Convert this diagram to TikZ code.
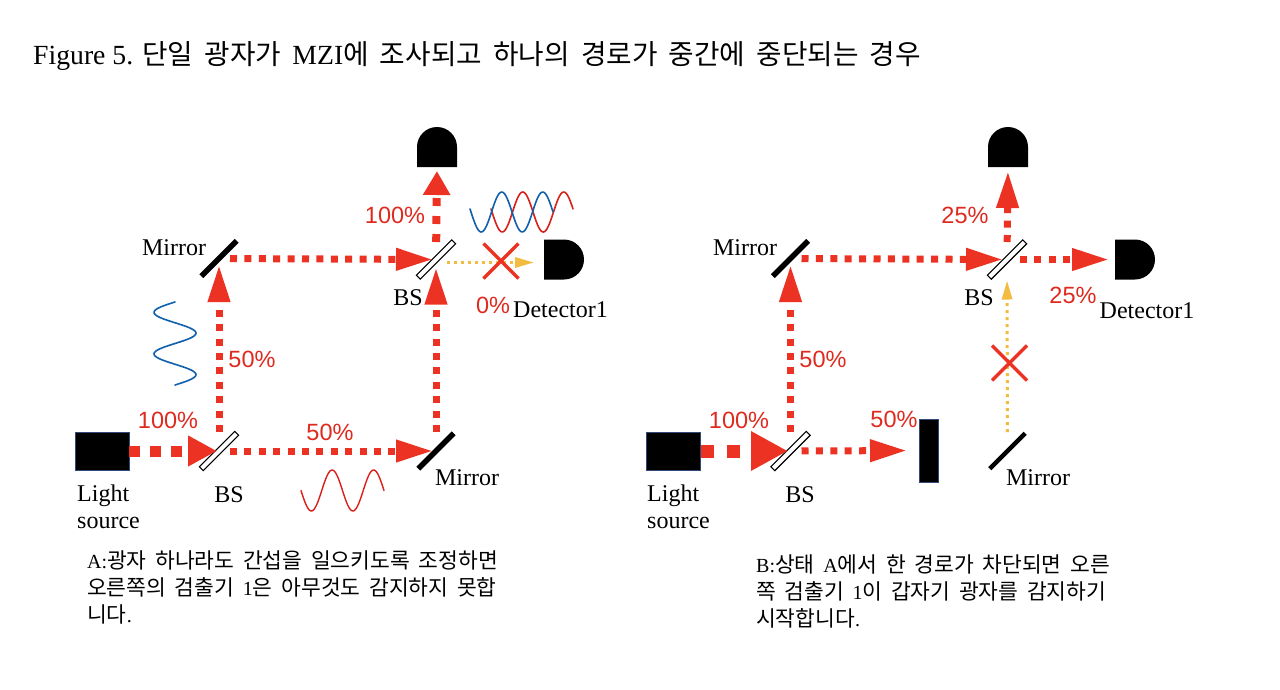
\documentclass[tikz,border=0pt]{standalone}
\usepackage{fontspec}
\setmainfont{Liberation Serif}
\newfontfamily\krfont[WordSpace=1.8]{Noto Sans CJK KR}
\newfontfamily\pctfont{Liberation Sans}
\usetikzlibrary{arrows.meta,shapes.misc}

\definecolor{beamred}{HTML}{EC3323}
\definecolor{pctred}{HTML}{DF2A1F}
\definecolor{beamyellow}{HTML}{F3BC41}
\definecolor{waveblue}{HTML}{1160AC}
\definecolor{wavered}{HTML}{D9211C}
\definecolor{boxblue}{HTML}{2F4A7A}

\newcommand{\kr}[1]{{\krfont\fontsize{21.5}{27}\selectfont #1}}
\newcommand{\krtitle}[1]{{\krfont\fontsize{27.75}{30}\selectfont #1}}

\tikzset{
  mirrorbar/.style={fill=black, rotate=45, minimum width=50pt, minimum height=5.5pt, inner sep=0pt, outer sep=0pt},
  splitter/.style={draw=black, fill=white, line width=1.2pt, rotate=45, minimum width=50pt, minimum height=5.5pt, inner sep=0pt, outer sep=0pt},
  sourcebox/.style={draw=boxblue, fill=black, line width=1pt, minimum width=54pt, minimum height=38pt, inner sep=0pt, outer sep=0pt},
  beam/.style={draw=beamred, line width=7pt, dash pattern=on 7pt off 7.4pt, -{Triangle[length=37pt,width=21pt]}},
  faint/.style={draw=beamyellow, line width=3pt, dash pattern=on 3pt off 4pt, -{Triangle[length=19pt,width=10pt]}},
  blocked/.style={cross out, draw=beamred, line width=3.5pt, minimum size=35pt, inner sep=0pt, outer sep=0pt},
  wave/.style={line width=1.6pt, line cap=round, smooth, samples=70},
  pct/.style={font=\pctfont\fontsize{23.5}{26}\selectfont, text=pctred, inner sep=0pt},
  lbl/.style={font=\fontsize{24}{27}\selectfont, inner sep=0pt},
  note/.style={font=\fontsize{20}{27}\selectfont, anchor=north west, align=left, inner sep=0pt},
  detector/.pic={\fill (-20,0) -- (-20,-20) arc (180:360:20) -- (20,0) -- cycle;}
}

\begin{document}
\begin{tikzpicture}[x=1pt, y=-1pt]

  \fill[white] (0,0) rectangle (1280,689);
  \useasboundingbox (0,0) rectangle (1280,689);

  % --- Title ---
  \node[anchor=base west, inner sep=0pt, font=\fontsize{27.7}{30}\selectfont] (title) at (33,64)
    {Figure 5. \krtitle{단일 광자가 }MZI\krtitle{에 조사되고 하나의 경로가 중간에 중단되는 경우}};

  % --- Left setup: parts ---
  \node[sourcebox] (srcA) at (102,451) {};
  \node[splitter] (bsA) at (219,451) {};
  \node[mirrorbar] (mirrorA) at (219,258.5) {};
  \node[mirrorbar] (mirrorB) at (436,451) {};
  \node[splitter] (bsB) at (436,259.5) {};
  \coordinate (detA) at (437,167);
  \coordinate (detB) at (544,259.5);
  \pic at (detA) {detector};
  \pic[rotate=-90] at (detB) {detector};

  % --- Left setup: beams ---
  \draw[beam, line width=11pt, dash pattern=on 10.5pt off 10.5pt, -{Triangle[length=29pt,width=29pt]}, shorten >=2pt] (srcA) -- (bsA.center);
  \draw[beam, shorten <=19pt, shorten >=6.5pt] (bsA.center) -- (mirrorA.center);
  \draw[beam, shorten <=11pt, shorten >=3pt] (mirrorA.center) -- (bsB.center);
  \draw[beam, shorten <=11pt, shorten >=3pt] (bsA.center) -- (mirrorB.center);
  \draw[beam, shorten <=19pt, shorten >=8pt] (mirrorB.center) -- (bsB.center);
  \draw[beam, line width=8pt, dash pattern=on 8pt off 10pt, -{Triangle[length=24pt,width=26pt]}, shorten <=17.5pt, shorten >=4pt] (bsB.center) -- (detA);
  \draw[faint, shorten <=11pt, shorten >=10pt] ([yshift=-3pt]bsB.center) -- ([yshift=-3pt]detB);
  \node[blocked] (crossA) at (501,261) {};

  % --- Left setup: waves ---
  \draw[wave, waveblue, domain=302:385] plot ({175-21*sin((\x-302)*8.675)}, \x);
  \draw[wave, wavered, line width=1.4pt, domain=301:384] plot (\x, {490.5+20.5*sin((\x-301)*8.675)});
  \draw[wave, wavered, domain=491:573] plot (\x, {212+20*sin((\x-492)*8.78)});
  \draw[wave, waveblue, domain=470:553] plot (\x, {212+20*sin((\x-471)*8.78)});

  % --- Left setup: labels ---
  \node[pct] (pctA) at (168,420) {100\%};
  \node[pct] (pctB) at (252,359) {50\%};
  \node[pct] (pctC) at (330,432) {50\%};
  \node[pct] (pctD) at (395,215) {100\%};
  \node[pct] (pctE) at (493,305) {0\%};
  \node[lbl, anchor=base west, align=left] (lightA) at (77,528) {Light\\source};
  \node[lbl] (nameBsA) at (229,495) {BS};
  \node[lbl] (nameBsB) at (408,298) {BS};
  \node[lbl] (nameMirrorA) at (174,248) {Mirror};
  \node[lbl] (nameMirrorB) at (467,478) {Mirror};
  \node[lbl] (nameDetA) at (560.5,310) {Detector1};
  \node[note] (noteA) at (87,551)
    {A:\kr{광자 하나라도 간섭을 일으키도록 조정하면}\\
     \kr{오른쪽의 검출기 }1\kr{은 아무것도 감지하지 못합}\\
     \kr{니다}.};

  % --- Right setup: parts ---
  \node[sourcebox] (srcB) at (673.5,451) {};
  \node[splitter] (bsC) at (790.5,451) {};
  \node[mirrorbar] (mirrorC) at (790.5,258.5) {};
  \node[mirrorbar, minimum height=4.5pt] (mirrorD) at (1007.5,451) {};
  \node[splitter] (bsD) at (1007,259.5) {};
  \node[sourcebox, minimum width=19pt, minimum height=63pt] (stopA) at (928.5,450.5) {};
  \coordinate (detC) at (1008,167);
  \coordinate (detD) at (1115,259.5);
  \pic at (detC) {detector};
  \pic[rotate=-90] at (detD) {detector};

  % --- Right setup: beams ---
  \draw[beam, line width=13pt, dash pattern=on 13pt off 13pt, -{Triangle[length=37pt,width=37pt]}, shorten >=2.5pt] (srcB) -- (bsC.center);
  \draw[beam, shorten <=19pt, shorten >=6.5pt] (bsC.center) -- (mirrorC.center);
  \draw[beam, shorten <=11pt, shorten >=4pt] (mirrorC.center) -- (bsD.center);
  \draw[beam, shorten <=11pt, shorten >=12pt] (bsC.center) -- (stopA);
  \draw[beam, shorten <=17.5pt, shorten >=4pt] (bsD.center) -- (detC);
  \draw[beam, shorten <=13pt, shorten >=6pt] (bsD.center) -- (detD);
  \draw[faint, shorten <=19pt, shorten >=21pt] (mirrorD.center) -- (bsD.center);
  \node[blocked] (crossB) at (1009.5,363) {};

  % --- Right setup: labels ---
  \node[pct] (pctF) at (739,420) {100\%};
  \node[pct] (pctG) at (823,359) {50\%};
  \node[pct] (pctH) at (894,419) {50\%};
  \node[pct] (pctI) at (965,215) {25\%};
  \node[pct] (pctJ) at (1073,295) {25\%};
  \node[lbl, anchor=base west, align=left] (lightB) at (647,528) {Light\\source};
  \node[lbl] (nameBsC) at (800,495) {BS};
  \node[lbl] (nameBsD) at (979,298) {BS};
  \node[lbl] (nameMirrorC) at (745,248) {Mirror};
  \node[lbl] (nameMirrorD) at (1038,478) {Mirror};
  \node[lbl] (nameDetB) at (1147,311) {Detector1};
  \node[note] (noteB) at (756,555)
    {B:\kr{상태 }A\kr{에서 한 경로가 차단되면 오른}\\
     \kr{쪽 검출기 }1\kr{이 갑자기 광자를 감지하기}\\
     \kr{시작합니다}.};

\end{tikzpicture}
\end{document}
